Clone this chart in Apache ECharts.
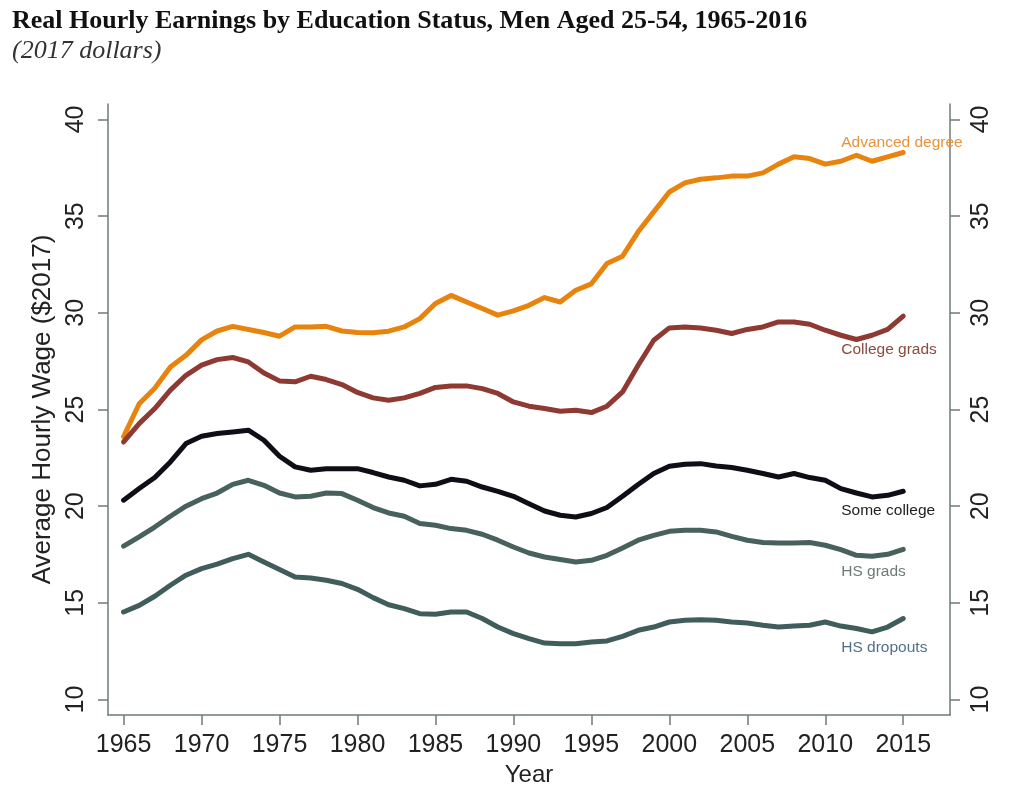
<!DOCTYPE html>
<html>
<head>
<meta charset="utf-8">
<script src="https://cdn.jsdelivr.net/npm/echarts@6/dist/echarts.min.js"></script>
<style>
  html, body { margin: 0; padding: 0; background: #fff; }
  #chart { width: 1024px; height: 791px; }
</style>
</head>
<body>
<div id="chart"></div>
<script>
// years 1965-2015
const years = [];
for (let y = 1965; y <= 2015; y++) years.push(y);

const xTicks = [1965, 1970, 1975, 1980, 1985, 1990, 1995, 2000, 2005, 2010, 2015];
const yTicks = [10, 15, 20, 25, 30, 35, 40];

// values
const advancedDegree = [
  23.6, 25.3, 26.1, 27.2, 27.8, 28.6, 29.06, 29.3, 29.14, 28.98,
  28.79, 29.27, 29.27, 29.3, 29.06, 28.98, 28.97, 29.05, 29.27, 29.7,
  30.48, 30.9, 30.56, 30.22, 29.88, 30.1, 30.39, 30.79, 30.56, 31.17,
  31.5, 32.55, 32.93, 34.19, 35.22, 36.25, 36.72, 36.91, 36.98, 37.07,
  37.07, 37.24, 37.69, 38.07, 37.98, 37.69, 37.84, 38.15, 37.84, 38.07,
  38.29
];
const collegeGrads = [
  23.32, 24.27, 25.05, 26.0, 26.77, 27.29, 27.58, 27.69, 27.46, 26.89,
  26.48, 26.43, 26.72, 26.55, 26.29, 25.88, 25.6, 25.48, 25.6, 25.83,
  26.14, 26.22, 26.22, 26.08, 25.83, 25.39, 25.17, 25.05, 24.91, 24.96,
  24.84, 25.17, 25.91, 27.29, 28.58, 29.22, 29.27, 29.22, 29.1, 28.93,
  29.14, 29.27, 29.53, 29.53, 29.41, 29.1, 28.84, 28.62, 28.84, 29.14,
  29.83
];
const someCollege = [
  20.31, 20.91, 21.48, 22.29, 23.24, 23.62, 23.76, 23.84, 23.93, 23.41,
  22.58, 22.03, 21.86, 21.94, 21.94, 21.94, 21.74, 21.51, 21.34, 21.05,
  21.13, 21.39, 21.29, 20.99, 20.77, 20.51, 20.13, 19.75, 19.53, 19.44,
  19.62, 19.93, 20.51, 21.12, 21.69, 22.06, 22.17, 22.2, 22.08, 22.0,
  21.86, 21.69, 21.51, 21.69, 21.48, 21.34, 20.91, 20.68, 20.48, 20.56,
  20.77
];
const hsGrads = [
  17.93, 18.41, 18.92, 19.48, 20.0, 20.39, 20.68, 21.13, 21.34, 21.08,
  20.68, 20.48, 20.51, 20.68, 20.65, 20.31, 19.93, 19.65, 19.48, 19.1,
  19.01, 18.84, 18.75, 18.55, 18.24, 17.89, 17.58, 17.37, 17.24, 17.11,
  17.2, 17.46, 17.84, 18.24, 18.49, 18.7, 18.75, 18.75, 18.67, 18.44,
  18.24, 18.12, 18.1, 18.1, 18.12, 17.98, 17.75, 17.46, 17.41, 17.51,
  17.77
];
const hsDropouts = [
  14.53, 14.87, 15.34, 15.91, 16.43, 16.77, 17.0, 17.29, 17.51, 17.11,
  16.72, 16.34, 16.29, 16.17, 16.0, 15.7, 15.27, 14.9, 14.7, 14.44,
  14.41, 14.53, 14.53, 14.19, 13.75, 13.41, 13.15, 12.92, 12.89, 12.89,
  12.98, 13.03, 13.27, 13.58, 13.75, 14.01, 14.1, 14.13, 14.1, 14.01,
  13.96, 13.84, 13.75, 13.8, 13.84, 14.01, 13.8, 13.67, 13.5, 13.75,
  14.19
];

const labelFont = 'Arial, "Liberation Sans", Helvetica, sans-serif';
const serifFont = '"Times New Roman", "Liberation Serif", serif';
const axisColor = '#6f7b79';

function makeSeries(name, values, color, labelColor, offset) {
  return {
    name: name,
    type: 'line',
    data: years.map((y, i) => [y, values[i]]),
    showSymbol: false,
    symbol: 'none',
    lineStyle: { color: color, width: 5, cap: 'round', join: 'round' },
    itemStyle: { color: color },
    endLabel: {
      show: true,
      formatter: name,
      color: labelColor,
      fontSize: 15.5,
      fontFamily: labelFont,
      distance: 0,
      align: 'left',
      verticalAlign: 'middle',
      offset: offset
    },
    animation: false
  };
}

function sideAxis(position) {
  return {
    type: 'value',
    min: 9.2,
    max: 40.8,
    position: position,
    splitLine: { show: false },
    axisLine: { show: true, lineStyle: { color: axisColor, width: 1.5 } },
    axisTick: { show: true, customValues: yTicks, length: 10, lineStyle: { color: axisColor, width: 1.5 } },
    axisLabel: {
      customValues: yTicks,
      rotate: 90,
      fontSize: 25,
      fontFamily: labelFont,
      color: '#222',
      margin: 19
    }
  };
}

const leftAxis = sideAxis('left');
leftAxis.name = 'Average Hourly Wage ($2017)';
leftAxis.nameLocation = 'middle';
leftAxis.nameGap = 43;
leftAxis.nameRotate = 90;
leftAxis.nameTextStyle = { fontSize: 26, fontFamily: labelFont, color: '#222' };

const chart = echarts.init(document.getElementById('chart'));
chart.setOption({
  backgroundColor: '#ffffff',
  animation: false,
  title: [
    {
      text: 'Real Hourly Earnings by Education Status, Men Aged 25-54, 1965-2016',
      left: 7,
      top: 3,
      textStyle: {
        fontFamily: serifFont,
        fontWeight: 'bold',
        fontSize: 26,
        color: '#111'
      }
    },
    {
      text: '(2017 dollars)',
      left: 7,
      top: 33,
      textStyle: {
        fontFamily: serifFont,
        fontStyle: 'italic',
        fontWeight: 'normal',
        fontSize: 26,
        color: '#333'
      }
    }
  ],
  grid: { left: 108, right: 74, top: 104, bottom: 76, containLabel: false, outerBoundsMode: 'none' },
  xAxis: {
    type: 'value',
    min: 1964,
    max: 2018,
    name: 'Year',
    nameLocation: 'middle',
    nameGap: 44,
    nameTextStyle: { fontSize: 24, fontFamily: labelFont, color: '#222' },
    splitLine: { show: false },
    axisLine: { lineStyle: { color: axisColor, width: 1.5 } },
    axisTick: { customValues: xTicks, length: 10, lineStyle: { color: axisColor, width: 1.5 } },
    axisLabel: {
      customValues: xTicks,
      fontSize: 25,
      fontFamily: labelFont,
      color: '#222',
      margin: 18,
      formatter: v => String(v)
    }
  },
  yAxis: [leftAxis, sideAxis('right')],
  series: [
    makeSeries('Advanced degree', advancedDegree, '#e8840e', '#e8923a', [-62, -10]),
    makeSeries('College grads', collegeGrads, '#8e3a33', '#8a4b3c', [-62, 34]),
    makeSeries('Some college', someCollege, '#0e0e16', '#222222', [-62, 19]),
    makeSeries('HS grads', hsGrads, '#48615d', '#6b7b78', [-62, 22]),
    makeSeries('HS dropouts', hsDropouts, '#405c5b', '#4f7185', [-62, 29])
  ]
});
</script>
</body>
</html>
